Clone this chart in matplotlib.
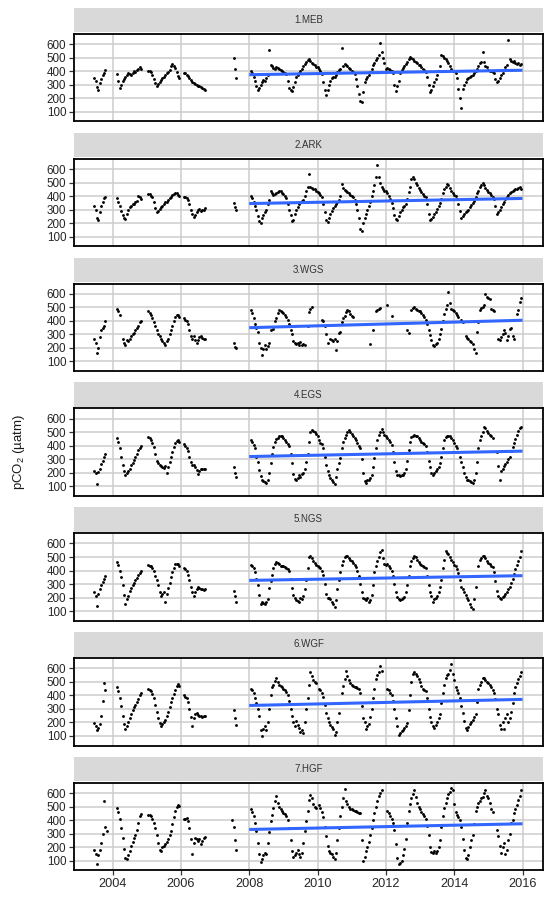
import numpy as np
import matplotlib
matplotlib.use("Agg")
import matplotlib.pyplot as plt

plt.rcParams['font.family'] = ['Liberation Sans', 'DejaVu Sans']
plt.rcParams['mathtext.fontset'] = 'custom'
plt.rcParams['mathtext.rm'] = 'Liberation Sans'
plt.rcParams['mathtext.it'] = 'Liberation Sans:italic'

na = None
years = list(range(2003, 2016))          # rows of each panel list, 24 half-month slots per year
panel_names = ["1.MEB", "2.ARK", "3.WGS", "4.EGS", "5.NGS", "6.WGF", "7.HGF"]
x_ticks = [2004, 2006, 2008, 2010, 2012, 2014, 2016]
y_ticks = [100, 200, 300, 400, 500, 600]

# linear trend (2008-2016) start / end values per panel
trend_start = [375, 345, 350, 320, 327, 325, 331]
trend_end = [408, 383, 405, 360, 362, 370, 373]

# each entry: (first half-month slot, values)
meb = [
    (11, [350, 330, 285, 265, 310, 340, 370, 385, 410]),
    (3, [380, 330, 280, 300, 330, 345, 360, 375, 390, 380, 370, 390, 400, 395, 410, 420, 430, 415]),
    (1, [405, 400, 395, 375, 345, 310, 290, 305, 320, 335, 350, 360, 370, 385, 395, 410, 440, 455, 440, 425, 395, 365, 350]),
    (2, [390, 385, 375, 365, 350, 335, 320, 310, 305, 300, 295, 290, 285, 275, 270, 265]),
    (13, [500, 420, 350]),
    (1, [400, 385, 360, 330, 290, 265, 280, 300, 320, 335, 330, 350, 370, 560, 450, 440, 425, 420, 430, 425, 420, 410, 400]),
    (0, [395, 390, 380, 330, 280, 260, 255, 285, 320, 355, 375, 390, 400, 420, 440, 455, 470, 485, 490, 475, 465, 455, 445, 435]),
    (0, [430, 415, 400, 380, 320, 260, 225, 260, 300, 330, 350, 355, 360, 375, 395, 410, 420, 575, 440, 455, 450, 440, 425, 415]),
    (0, [400, 395, 380, 340, 290, 230, 180, 170, 250, 320, 340, 360, 375, 395, 420, 445, 465, 485, 500, 520, 610, 540, 500, 460]),
    (0, [420, 425, 415, 410, 405, 390, 300, 255, 290, 330, 390, 410, 425, 440, 455, 470, 490, 505, 495, 490, 480, 470, 460, 450]),
    (0, [445, 435, 420, 410, 395, 360, 300, 250, 265, 290, 320, 345, 370, 400, 440, 520, 510, 500, 490, 480, 465, 440, 415, 400]),
    (0, [400, 390, 350, 270, 200, 130, 270, 300, 320, 340, 350, 360, 365, 375, 390, 405, 420, 440, 460, 470, 540, 470, 440, 430]),
    (0, [410, 405, 400, 395, 390, 340, 320, 330, 350, 370, 390, 410, 430, 450, 630, 490, 480, 470, 475, 465, 455, 460, 450, 455]),
]
ark = [
    (11, [330, 300, 240, 225, 280, 330, 360, 385, 395]),
    (3, [385, 360, 330, 290, 260, 240, 230, 270, 300, 320, 330, 340, 345, 355, 365, 400, 390, 380]),
    (1, [415, 415, 400, 390, 360, 310, 285, 290, 305, 320, 330, 340, 355, 360, 370, 385, 395, 405, 415, 425, 420, 410, 400]),
    (2, [395, 390, 385, 375, 340, 300, 265, 245, 260, 280, 300, 305, 290, 295, 300, 310]),
    (13, [350, 320, 300]),
    (1, [400, 385, 360, 330, 300, 250, 215, 200, 240, 260, 280, 300, 340, 370, 440, 420, 410, 415, 425, 430, 440, 435, 425]),
    (0, [415, 400, 385, 340, 300, 260, 215, 220, 270, 300, 320, 340, 355, 365, 375, 400, 440, 470, 565, 470, 460, 455, 450, 440]),
    (0, [430, 420, 405, 390, 340, 280, 225, 210, 240, 270, 290, 310, 330, 345, 360, 375, 400, 490, 460, 445, 435, 430, 420, 410]),
    (0, [400, 390, 370, 345, 300, 240, 160, 145, 200, 240, 270, 300, 330, 360, 400, 440, 480, 540, 630, 540, 500, 470, 450, 440]),
    (0, [435, 420, 400, 380, 350, 310, 260, 230, 220, 250, 280, 300, 320, 330, 345, 380, 430, 470, 530, 545, 525, 500, 480, 460]),
    (0, [445, 430, 415, 400, 390, 340, 270, 225, 230, 245, 265, 285, 305, 325, 350, 380, 420, 450, 470, 490, 480, 460, 440, 425]),
    (0, [410, 400, 380, 340, 290, 240, 250, 270, 280, 290, 300, 320, 335, 350, 365, 390, 420, 440, 465, 480, 495, 480, 460, 445]),
    (0, [430, 420, 405, 395, 380, 330, 270, 280, 300, 320, 340, 360, 380, 395, 410, 420, 430, 440, 445, 455, 450, 460, 465, 455]),
]
wgs = [
    (11, [270, 235, 165, 200, 280, 330, 350, 360, 400]),
    (3, [485, 470, 445, na, 265, 240, 225, 260, 255, 270, 285, 300, 310, 330, 350, 365, 390, 400]),
    (1, [470, 460, 445, 420, 390, 360, 330, 305, 285, 265, 250, 240, 225, 250, 270, 300, 330, 360, 400, 430, 445, 445, 430]),
    (2, [420, 410, 400, 380, 330, 290, 270, 290, 260, 235, 260, 280, 285, 275, 270, 265]),
    (13, [235, 210, 200]),
    (1, [480, 460, 420, 380, 345, 320, 240, 200, 150, 190, 220, 195, 215, 235, 330, na, 340, 400, 420, 460, 480, 475, 465]),
    (0, [455, 445, 430, 410, 380, 330, 300, 255, 240, 230, 240, 225, 245, 220, 230, 225, na, 365, 465, 490, 505]),
    (3, [410, 400, 360, 300, 240, na, 265, 260, 250, 265, 185, 250, 310, 320, 390, 420, 440, 465, 480, 470, 450]),
    (0, [440, 430, na, na, na, na, na, na, na, na, na, na, na, 230, na, 335, na, 470, 480, 490, 495]),
    (1, [520, na, na, 440, na, na, na, na, na, na, na, na, na, na, 335, 310, na, 480, 495, 500, 490, 480, 470]),
    (0, [470, 460, 445, 430, 410, 380, 330, 295, 260, 220, 215, 230, 240, 265, 300, 340, 400, 450, 490, 520, 615, 530, 490, 480]),
    (0, [470, 455, 445, 430, na, 410, 395, na, 290, 275, 265, 250, 245, 230, 195, 160, 315, 395, 480, 495, 505, 520, 600, 580]),
    (0, [570, 560, 490, 480, 475, na, na, 270, 260, 280, 300, 330, 310, 260, 290, 340, 350, 290, 270, na, 450, 480, 540, 570]),
]
egs = [
    (11, [215, 195, 115, 205, 230, 265, 290, 320, 340]),
    (3, [460, 430, 380, 320, 260, 210, 180, 195, 210, 230, 255, 275, 295, 315, 340, 365, 380, 395]),
    (1, [465, 455, 440, 420, 390, 340, 290, 270, 255, 250, 240, 235, 250, 200, 240, 280, 320, 355, 390, 420, 435, 440, 430]),
    (2, [410, 400, 385, 360, 320, 280, 260, 255, 240, 220, 190, 215, 230, 225, 230, 225]),
    (13, [240, 200, 170]),
    (1, [440, 430, 405, 380, 320, 280, 220, 175, 150, 140, 130, 125, 145, 200, 270, 340, 390, 430, 450, 460, 470, 475, 470]),
    (0, [455, 440, 425, 410, 395, 340, 270, 190, 155, 150, 165, 180, 170, 190, 200, 230, 280, 340, 430, 505, 515, 510, 500, 485]),
    (0, [470, 440, 420, 410, 380, 320, 260, 210, 180, 160, 150, 135, 115, 170, 230, 270, 310, 380, 430, 455, 480, 500, 515, 500]),
    (0, [485, 470, 455, 440, 420, 400, 380, 300, 200, 140, 125, 145, 150, 165, 185, 240, 310, 380, 440, 480, 500, 525, 500, 480]),
    (0, [470, 455, 440, 425, 405, 350, 280, 210, 185, 180, 175, 180, 185, 200, 230, 290, 370, 430, 465, 475, 480, 475, 470, 460]),
    (0, [445, 430, 420, 410, 400, 350, 290, 240, 200, 185, 200, 215, 225, 240, 270, 320, 380, 440, 465, 470, 475, 470, 460, 445]),
    (0, [420, 400, 380, 350, 320, 280, 240, 200, 170, 150, 145, 140, 130, 125, 150, 200, 280, 380, 440, 470, 500, 540, 530, 510]),
    (0, [495, 480, 470, 460, na, na, 350, 250, 150, 210, 230, 250, 265, 280, 300, 320, 360, 390, 420, 450, 480, 510, 530, 540]),
]
ngs = [
    (11, [240, 215, 140, 230, 265, 290, 315, 340, 360]),
    (3, [460, 440, 400, 350, 290, 220, 150, 190, 210, 250, 270, 290, 310, 330, 345, 365, 385, 400]),
    (1, [440, 435, 430, 420, 400, 360, 330, 290, 240, 210, 230, 240, 170, 230, 270, 310, 350, 390, 420, 445, 450, 445, 435]),
    (2, [420, 410, 400, 370, 330, 280, 240, 210, 240, 265, 275, 270, 260, 265, 255, 260]),
    (13, [250, 210, 165]),
    (1, [440, 435, 420, 390, 340, 290, 220, 150, 170, 160, 155, 165, 190, 270, 320, 370, 420, 445, 460, 455, 445, 435, 430]),
    (0, [430, 425, 420, 410, 395, 340, 270, 220, 200, 180, 175, 170, 200, 190, 210, 260, 330, 420, 500, 510, 490, 470, 455, 440]),
    (0, [430, 425, 415, 400, 370, 300, 230, 200, 195, 190, 170, 150, 130, 180, 260, 330, 390, 440, 470, 500, 510, 505, 495, 480]),
    (0, [470, 455, 440, 425, 400, 360, 300, 240, 200, 190, 185, 195, 170, 180, 220, 290, 390, 430, 470, 500, 540, 555, 490, 450]),
    (0, [440, 450, 430, 415, 400, 360, 300, 240, 205, 190, 185, 190, 195, 205, 240, 290, 360, 430, 470, 495, 505, 500, 480, 460]),
    (0, [450, 440, 430, 425, 415, 360, 290, 240, 210, 170, 190, 200, 215, 240, 275, 330, 420, 480, 545, 530, 520, 500, 480, 460]),
    (0, [440, 430, 410, 380, 330, 280, 260, 240, 220, 200, 180, 150, 130, 115, 190, 280, 360, 430, 475, 495, 510, 505, 490, 470]),
    (0, [455, 445, 435, 425, 390, 320, 250, 210, 195, 190, 205, 215, 225, 240, 260, 280, 310, 340, 375, 410, 440, 470, 500, 545]),
]
wgf = [
    (11, [195, 175, 140, 160, 190, 250, 360, 490, 440]),
    (3, [460, 430, 380, 320, 250, 185, 150, 170, 200, 230, 260, 290, 310, 330, 350, 375, 400, 420]),
    (1, [450, 440, 430, 410, 380, 330, 280, 230, 195, 175, 190, 200, 220, 250, 280, 310, 350, 380, 410, 440, 470, 485, 470]),
    (2, [400, 390, 380, 350, 300, 240, 170, 230, 260, 270, 255, 245, 250, 240, 250, 245]),
    (13, [290, 230, 180]),
    (1, [450, 440, 420, 380, 340, 300, 250, 140, 100, 150, 170, 140, 200, 300, 400, 460, 480, 505, 530, 500, 480, 470, 460]),
    (0, [450, 440, 425, 400, 360, 300, 250, 200, 170, 210, 180, 160, 130, 145, 120, 200, 300, 380, 480, 570, 540, 510, 500, 490]),
    (1, [450, 440, 420, 390, 330, 270, 230, 200, 180, 165, 150, 110, 130, 200, 270, 340, 420, 470, 520, 580, 540, 510, 490]),
    (0, [480, 470, 465, 460, 455, 450, 420, 320, 230, 200, 150, 170, 190, 240, 300, 380, 450, 520, 550, 570, 620, 580]),
    (1, [450, 440, 420, 400, 360, 300, 230, 170, 110, 120, 135, 145, 160, 175, 195, 290, 400, 500, 560, 570, 555, 540, 520]),
    (0, [500, 470, 450, 440, 430, 380, 300, 240, 200, 170, 160, 180, 200, 230, 260, 340, 420, 480, 530, 550, 560, 590, 630, 560]),
    (0, [510, 460, 440, 420, 380, 320, 270, 210, 160, 145, 165, 190, 200, 220, 240, 260, 350, 450, 480, 500, 525, 530, 515, 500]),
    (0, [490, 475, 460, 440, 420, 370, 300, 260, 180, 150, 200, 150, 230, 260, 200, 230, 280, 340, 420, 460, 490, 520, 545, 575]),
]
hgf = [
    (11, [180, 150, 75, 140, 180, 230, 300, 540, 350, 320]),
    (3, [490, 460, 410, 340, 270, 190, 120, 110, 140, 175, 210, 240, 270, 290, 330, 380, 430, 445]),
    (1, [440, 435, 430, 410, 380, 340, 290, 230, 180, 170, 200, 210, 220, 240, 260, 290, 320, 370, 420, 470, 500, 510, 505]),
    (2, [410, 405, 415, 390, 340, 260, 150, 230, 270, 260, 245, 260, 225, 245, 270, 275]),
    (12, [400, 350, 250, 180]),
    (1, [480, 460, 430, 380, 320, 230, 150, 90, 110, 140, 155, 150, 230, 310, 390, 440, 490, 540, 580, 530, 500, 480, 465]),
    (0, [455, 445, 430, 400, 340, 250, 170, 125, 140, 160, 180, 150, 125, 160, 230, 320, 390, 470, 550, 585, 560, 520, 500, 490]),
    (1, [510, 490, 460, 420, 350, 280, 210, 170, 155, 150, 130, 110, 160, 250, 340, 430, 500, 560, 630, 540, 520, 500, 485]),
    (0, [480, 475, 470, 465, 460, 455, 450, 250, 100, 130, 170, 200, 240, 290, 340, 400, 450, 500, 540, 580, 600, 625]),
    (1, [470, 450, 430, 410, 380, 330, 220, 120, 75, 80, 100, 140, 190, 260, 380, 470, 520, 560, 590, 625, 570, 530, 500]),
    (0, [480, 460, 445, 430, 410, 360, 290, 200, 165, 160, 170, 155, 175, 200, 250, 350, 430, 490, 530, 560, 590, 610, 635, 625]),
    (0, [520, 460, 440, 420, 400, 350, 260, 180, 120, 110, 140, 200, 250, 290, 370, 470, 500, 530, 545, 560, 570, 600, 620, 580]),
    (0, [560, 530, 480, 460, na, na, 330, 280, 210, 160, 200, 230, 150, 180, 250, 300, 380, 400, 450, 480, 510, 550, 580, 620]),
]
panels = [meb, ark, wgs, egs, ngs, wgf, hgf]

t = np.array([y + h / 24.0 for y in years for h in range(24)])


def build(rows):
    vals = np.full(len(years) * 24, np.nan)
    for i, (start, v) in enumerate(rows):
        for j, x in enumerate(v):
            if x is not None and start + j < 24:
                vals[i * 24 + start + j] = x
    return vals


W, H = 558, 897
fig = plt.figure(figsize=(W / 100, H / 100), dpi=100)
left = 74 / W
width = (543 - 74) / W
ph = 87.5
for i, (name, rows) in enumerate(zip(panel_names, panels)):
    top = 34 + 124.8 * i
    ax = fig.add_axes([left, 1 - (top + ph) / H, width, ph / H])
    sax = fig.add_axes([left, 1 - (top - 1.5) / H, width, 24.5 / H])
    sax.set_facecolor('#d9d9d9')
    for s in sax.spines.values():
        s.set_visible(False)
    sax.set_xticks([]); sax.set_yticks([])
    sax.text(0.5, 0.5, name, ha='center', va='center', fontsize=7, color='#333333',
             transform=sax.transAxes)

    v = build(rows)
    ax.scatter(t, v, s=4.2, c='black', linewidths=0, zorder=2)
    ax.plot([2008, 2016], [trend_start[i], trend_end[i]], color='#3366FF', lw=2.2,
            solid_capstyle='butt', zorder=3)
    ax.set_xlim(2002.87, 2016.6)
    ax.set_ylim(29, 676)
    ax.set_xticks(x_ticks)
    ax.set_yticks(y_ticks)
    ax.grid(True, color='#cdcdcd', lw=1.1, zorder=0)
    ax.set_axisbelow(True)
    for s in ax.spines.values():
        s.set_color('black'); s.set_linewidth(1.3)
    ax.tick_params(axis='both', direction='out', length=3.5, width=0.9, color='#333333',
                   labelcolor='#262626', pad=2)
    ax.tick_params(axis='y', labelsize=8.4)
    ax.tick_params(axis='x', labelsize=9.2)
    if i < len(panels) - 1:
        ax.tick_params(axis='x', length=0, labelbottom=False)

fig.text(19 / W, 1 - 452 / H, r'pCO$_\mathregular{2}$ (µatm)', rotation=90, ha='center',
         va='center', fontsize=9.5, color='#1a1a1a')
fig.savefig('out.png', dpi=100)
